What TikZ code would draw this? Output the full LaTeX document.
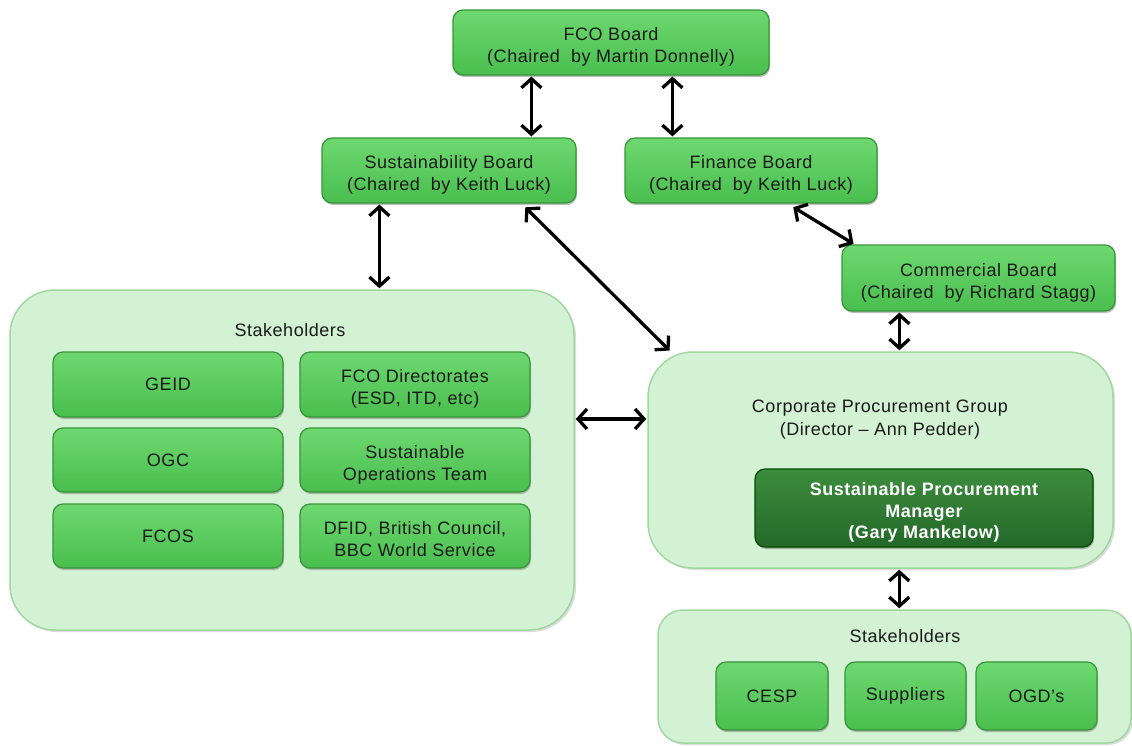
\documentclass[tikz,border=0pt]{standalone}
\usepackage{fontspec}
\setmainfont[LetterSpace=3]{Liberation Sans}
\usetikzlibrary{arrows.meta,shadows}
\definecolor{gfillT}{HTML}{6ED870}
\definecolor{gfillB}{HTML}{49BE4E}
\definecolor{gdraw}{HTML}{379539}
\definecolor{dfillT}{HTML}{3D8D3D}
\definecolor{dfillB}{HTML}{23692A}
\definecolor{cfill}{HTML}{D3F1D3}
\definecolor{cdraw}{HTML}{A0D8A0}
\definecolor{txt}{HTML}{1A1A1A}
\newcommand\btx[1]{\raisebox{-5pt}[\height][\depth]{\begin{tabular}{@{}c@{}}#1\end{tabular}}}
\tikzset{
  gbox/.style={rounded corners=10pt, top color=gfillT, bottom color=gfillB, draw=gdraw, line width=1.2pt,
    drop shadow={shadow xshift=1pt, shadow yshift=-2pt, fill=black!55, opacity=.45},
    align=center, text=txt, font=\fontsize{18}{22}\selectfont, inner sep=0pt},
  dbox/.style={rounded corners=10pt, top color=dfillT, bottom color=dfillB, draw=black!70!green, line width=1.2pt,
    drop shadow={shadow xshift=1pt, shadow yshift=-2pt, fill=black!60, opacity=.45},
    align=center, text=white, font=\fontsize{18}{21.5}\selectfont\bfseries, inner sep=0pt},
  cbox/.style={rounded corners=45pt, fill=cfill, draw=cdraw, line width=1.5pt,
    drop shadow={shadow xshift=2pt, shadow yshift=-2pt, fill=black!35, opacity=.4}, inner sep=0pt},
  lbl/.style={align=center, text=txt, font=\fontsize{18}{23}\selectfont},
  arr/.style={line width=3.3pt, black, {Straight Barb[length=9pt,width=20pt]}-{Straight Barb[length=9pt,width=20pt]}, shorten <=1pt, shorten >=1pt}
}
\begin{document}
\begin{tikzpicture}[x=1pt,y=-1pt]
\useasboundingbox (0,0) rectangle (1132,745);
\fill[white] (0,0) rectangle (1132,745);
% containers
\node[cbox, minimum width=564pt, minimum height=340pt] (stakeA) at (292,460) {};
\node[lbl] (stakeAl) at (290,330) {Stakeholders};
\node[cbox, minimum width=465pt, minimum height=216pt] (cpg) at (880.5,460) {};
\node[lbl] (cpgl) at (880,420) {Corporate Procurement Group\\(Director -- Ann Pedder)};
\node[cbox, rounded corners=25pt, minimum width=473pt, minimum height=133pt] (stakeB) at (894.5,676.5) {};
\node[lbl] (stakeBl) at (905,636) {Stakeholders};
% boards
\node[gbox, minimum width=316pt, minimum height=65pt] (fco) at (611,42.5) {\btx{FCO Board\\(Chaired\ \ by Martin Donnelly)}};
\node[gbox, minimum width=254pt, minimum height=65pt] (sust) at (449,170.5) {\btx{Sustainability Board\\(Chaired\ \ by Keith Luck)}};
\node[gbox, minimum width=252pt, minimum height=65pt] (fin) at (751,170.5) {\btx{Finance Board\\(Chaired\ \ by Keith Luck)}};
\node[gbox, minimum width=273pt, minimum height=66pt] (com) at (978.5,278) {\btx{Commercial Board\\(Chaired\ \ by Richard Stagg)}};
% left stakeholders
\node[gbox, minimum width=230pt, minimum height=65pt] (geid) at (168,384.5) {GEID};
\node[gbox, minimum width=230pt, minimum height=65pt] (fcod) at (415,384.5) {\btx{FCO Directorates\\(ESD, ITD, etc)}};
\node[gbox, minimum width=230pt, minimum height=64pt] (ogc) at (168,460) {OGC};
\node[gbox, minimum width=230pt, minimum height=64pt] (sot) at (415,460) {\btx{Sustainable\\Operations Team}};
\node[gbox, minimum width=230pt, minimum height=64pt] (fcos) at (168,536) {FCOS};
\node[gbox, minimum width=230pt, minimum height=64pt] (dfid) at (415,536) {\btx{DFID, British Council,\\BBC World Service}};
% SPM
\node[dbox, minimum width=338pt, minimum height=78pt] (spm) at (924,508) {\btx{Sustainable Procurement\\Manager\\(Gary Mankelow)}};
% bottom stakeholders
\node[gbox, minimum width=112pt, minimum height=68pt] (cesp) at (772,696) {CESP};
\node[gbox, minimum width=121pt, minimum height=68pt] (sup) at (905.5,696) {Suppliers};
\node[gbox, minimum width=121pt, minimum height=68pt] (ogd) at (1036.5,696) {OGD's};
% connectors
\draw[arr] ([xshift=79pt]fco.south west) -- ([xshift=79pt]fco.south west |- sust.north);
\draw[arr] ([xshift=220pt]fco.south west) -- ([xshift=220pt]fco.south west |- fin.north);
\draw[arr] ([xshift=58pt]sust.south west) -- ([xshift=58pt]sust.south west |- stakeA.north);
\draw[arr] ([xshift=-52pt,yshift=-3pt]sust.south east) -- ([xshift=23pt]cpg.north west);
\draw[arr] ([xshift=168pt,yshift=-3pt]fin.south west) -- ([xshift=13pt]com.north west);
\draw[arr] ([xshift=58pt]com.south west) -- ([xshift=58pt]com.south west |- cpg.north);
\draw[arr] ([yshift=41pt]stakeA.east) -- ([yshift=41pt]cpg.west);
\draw[arr] ([xshift=252pt]cpg.south west) -- ([xshift=252pt]cpg.south west |- stakeB.north);
\end{tikzpicture}
\end{document}
